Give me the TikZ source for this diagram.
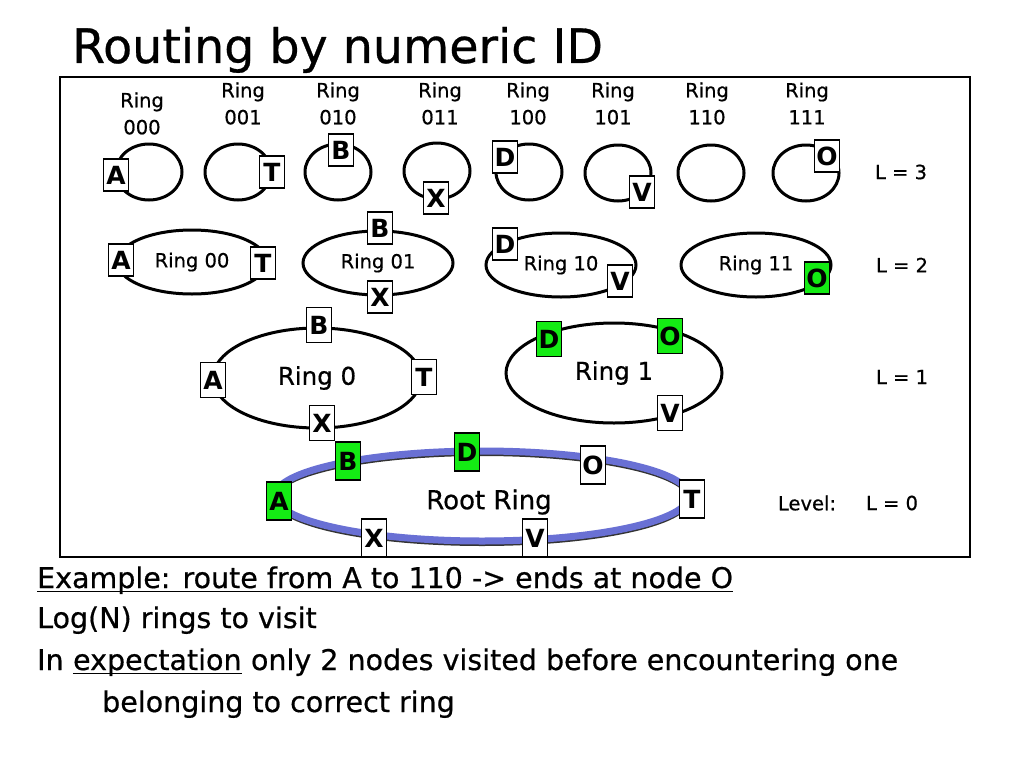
\documentclass[tikz,border=0pt]{standalone}
\usepackage{fontspec}
\setmainfont[UprightFeatures={FakeBold=0.6}]{DejaVu Sans}
\usetikzlibrary{shapes.geometric}
\definecolor{nodegreen}{RGB}{20,235,20}
\definecolor{rootblue}{RGB}{105,112,212}
\begin{document}
\begin{tikzpicture}[x=1pt,y=-1pt,
  ring/.style={ellipse, draw=black, line width=3pt, inner sep=0pt},
  smallring/.style={ring, minimum width=66pt, minimum height=56pt},
  midring/.style={ring, minimum width=150pt, minimum height=64pt, font=\fontsize{19.5}{20}\selectfont},
  bigring/.style={ring, minimum height=100pt, font=\fontsize{24.5}{24.5}\selectfont},
  peer/.style={draw=black, line width=1.2pt, fill=white, inner sep=0pt, minimum width=25pt, minimum height=32pt, font=\fontsize{25}{25}\selectfont\bfseries},
  hit/.style={peer, fill=nodegreen},
  ringlab/.style={align=center, inner sep=0pt, font=\fontsize{19.5}{27}\selectfont},
  levellab/.style={inner sep=0pt, font=\fontsize{19.5}{19.5}\selectfont},
  bodytext/.style={anchor=base west, inner sep=0pt, font=\fontsize{28.5}{28.5}\selectfont},
  uline/.style={line width=1.6pt}
]
\useasboundingbox (0,0) rectangle (1024,768);
\fill[white] (0,0) rectangle (1024,768);

% title
\node[anchor=base west, inner sep=0pt, font=\fontsize{47.5}{47.5}\selectfont] (title) at (72,63) {Routing by numeric ID};

% frame
\draw[line width=2pt] (60,77) rectangle (970,557);

% ---------- L = 3 ----------
\node[smallring] (r000) at (149,172) {};
\node[smallring] (r001) at (238,172) {};
\node[smallring] (r010) at (338,172) {};
\node[smallring] (r011) at (437,171) {};
\node[smallring] (r100) at (529,172) {};
\node[smallring] (r101) at (618,173) {};
\node[smallring] (r110) at (711,173) {};
\node[smallring] (r111) at (806,173) {};

\node[ringlab] (lab000) at (142,113.5) {Ring\\000};
\node[ringlab] (lab001) at (243,103.5) {Ring\\001};
\node[ringlab] (lab010) at (338,103.5) {Ring\\010};
\node[ringlab] (lab011) at (440,103.5) {Ring\\011};
\node[ringlab] (lab100) at (528,103.5) {Ring\\100};
\node[ringlab] (lab101) at (613,103.5) {Ring\\101};
\node[ringlab] (lab110) at (707,103.5) {Ring\\110};
\node[ringlab] (lab111) at (807,103.5) {Ring\\111};

\node[peer] (a3) at (116,175) {A};
\node[peer] (t3) at (272,172) {T};
\node[peer] (b3) at (341,150) {B};
\node[peer] (x3) at (436,198) {X};
\node[peer] (d3) at (505,157) {D};
\node[peer] (v3) at (642,192) {V};
\node[peer] (o3) at (827,156) {O};

\node[levellab] (lv3) at (901,172) {L = 3};

% ---------- L = 2 ----------
\node[midring] (r00) at (192,262) {Ring 00};
\node[midring] (r01) at (378,263) {Ring 01};
\node[midring] (r10) at (561,265) {Ring 10};
\node[midring] (r11) at (756,265) {Ring 11};

\node[peer] (a2) at (121,260) {A};
\node[peer] (t2) at (263,263) {T};
\node[peer] (b2) at (380,228) {B};
\node[peer] (x2) at (380,297) {X};
\node[peer] (d2) at (505,244) {D};
\node[peer] (v2) at (620,281) {V};
\node[hit] (o2) at (817,278) {O};

\node[levellab] (lv2) at (902,265) {L = 2};

% ---------- L = 1 ----------
\node[bigring, minimum width=208pt] (r0) at (317,378) {Ring 0};
\node[bigring, minimum width=216pt] (r1) at (614,373) {Ring 1};

\node[peer, minimum height=35pt] (a1) at (213,380) {A};
\node[peer, minimum height=35pt] (b1) at (319,325) {B};
\node[peer, minimum height=35pt] (t1) at (424,377) {T};
\node[peer, minimum height=35pt] (x1) at (322,423) {X};
\node[hit, minimum height=35pt] (d1) at (549,339) {D};
\node[hit, minimum height=35pt] (o1) at (670,336) {O};
\node[peer, minimum height=35pt] (v1) at (670,413) {V};

\node[levellab] (lv1) at (902,377) {L = 1};

% ---------- L = 0 (root) ----------
\draw[line width=4pt, black!80] (482,499) ellipse [x radius=207, y radius=45];
\draw[line width=7pt, rootblue] (482,496) ellipse [x radius=207, y radius=45];
\node[inner sep=0pt, font=\fontsize{26}{26}\selectfont] (rootlab) at (489,502) {Root Ring};

\node[hit, minimum height=38pt] (aR) at (279,501) {A};
\node[hit, minimum height=38pt] (bR) at (348,461) {B};
\node[hit, minimum height=38pt] (dR) at (467,452) {D};
\node[peer, minimum height=38pt] (oR) at (593,465) {O};
\node[peer, minimum height=38pt] (tR) at (692,499) {T};
\node[peer, minimum height=38pt] (xR) at (374,538) {X};
\node[peer, minimum height=38pt] (vR) at (535,538) {V};

\node[levellab] (level) at (807,503) {Level:};
\node[levellab] (lv0) at (892,503) {L = 0};

% ---------- bottom text ----------
\node[bodytext] (ex) at (37,588) {Example: route from A to 110 -> ends at node O};
\draw[uline] ([yshift=-3.5pt]ex.base west) -- ([yshift=-3.5pt]ex.base east);
\node[bodytext] (log) at (37,628) {Log(N) rings to visit};
\node[bodytext] (in) at (37,670) {In};
\node[bodytext] (expword) at ([xshift=9.06pt]in.base east) {expectation};
\draw[uline] ([yshift=-3.5pt]expword.base west) -- ([yshift=-3.5pt]expword.base east);
\node[bodytext] (rest) at ([xshift=9.06pt]expword.base east) {only 2 nodes visited before encountering one};
\node[bodytext] (belong) at (102,712) {belonging to correct ring};
\end{tikzpicture}
\end{document}
